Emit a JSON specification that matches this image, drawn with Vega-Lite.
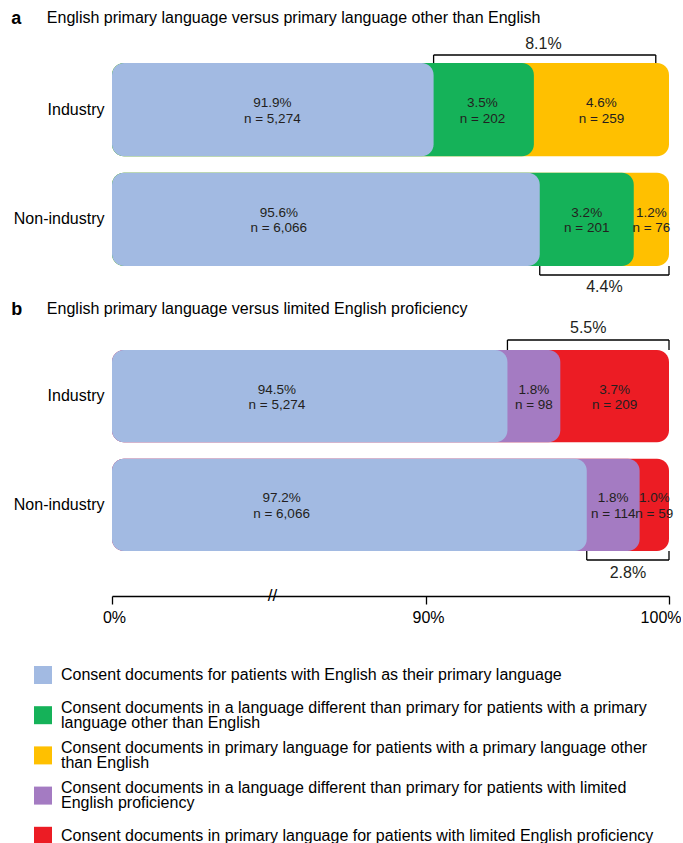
{
  "$schema": "https://vega.github.io/schema/vega-lite/v6.json",
  "padding": {"left": 11, "top": 10, "right": 0, "bottom": 0},
  "config": {"font": "Liberation Sans", "view": {"stroke": null}, "axis": {"grid": false}},
  "datasets": {
    "segs": [
      {"panel": "a", "row": "Industry", "cat": "Consent documents for patients with English as their primary language", "k": 1, "pct": 0.919, "nl": "n = 5,274"},
      {"panel": "a", "row": "Industry", "cat": "Consent documents in a language different than primary for patients with a primary language other than English", "k": 2, "pct": 0.035, "nl": "n = 202"},
      {"panel": "a", "row": "Industry", "cat": "Consent documents in primary language for patients with a primary language other than English", "k": 3, "pct": 0.046, "nl": "n = 259"},
      {"panel": "a", "row": "Non-industry", "cat": "Consent documents for patients with English as their primary language", "k": 1, "pct": 0.956, "nl": "n = 6,066"},
      {"panel": "a", "row": "Non-industry", "cat": "Consent documents in a language different than primary for patients with a primary language other than English", "k": 2, "pct": 0.032, "nl": "n = 201"},
      {"panel": "a", "row": "Non-industry", "cat": "Consent documents in primary language for patients with a primary language other than English", "k": 3, "pct": 0.012, "nl": "n = 76"},
      {"panel": "b", "row": "Industry", "cat": "Consent documents for patients with English as their primary language", "k": 1, "pct": 0.945, "nl": "n = 5,274"},
      {"panel": "b", "row": "Industry", "cat": "Consent documents in a language different than primary for patients with limited English proficiency", "k": 2, "pct": 0.018, "nl": "n = 98"},
      {"panel": "b", "row": "Industry", "cat": "Consent documents in primary language for patients with limited English proficiency", "k": 3, "pct": 0.037, "nl": "n = 209"},
      {"panel": "b", "row": "Non-industry", "cat": "Consent documents for patients with English as their primary language", "k": 1, "pct": 0.972, "nl": "n = 6,066"},
      {"panel": "b", "row": "Non-industry", "cat": "Consent documents in a language different than primary for patients with limited English proficiency", "k": 2, "pct": 0.018, "nl": "n = 114"},
      {"panel": "b", "row": "Non-industry", "cat": "Consent documents in primary language for patients with limited English proficiency", "k": 3, "pct": 0.010, "nl": "n = 59"}
    ],
    "brk": [
      {"panel": "a", "row": "Industry", "side": "top", "from": 0.919, "to": 0.9955, "lab": "8.1%"},
      {"panel": "a", "row": "Non-industry", "side": "bottom", "from": 0.956, "to": 1.0, "lab": "4.4%"},
      {"panel": "b", "row": "Industry", "side": "top", "from": 0.945, "to": 1.0, "lab": "5.5%"},
      {"panel": "b", "row": "Non-industry", "side": "bottom", "from": 0.972, "to": 1.0, "lab": "2.8%"}
    ]
  },
  "spacing": 84,
  "bounds": "flush",
  "vconcat": [
    {
      "width": 555,
      "height": 203,
      "title": {"text": "a", "subtitle": "\u200b\u00a0\u00a0\u00a0\u00a0\u00a0\u00a0\u00a0\u00a0English primary language versus primary language other than English", "anchor": "start", "frame": "bounds", "fontSize": 18, "fontWeight": "bold", "subtitleFontSize": 16, "subtitlePadding": -18, "offset": 8, "color": "black", "subtitleColor": "black", "dx": -2},
      "layer": [
        {
          "data": {"name": "segs"},
          "transform": [{"filter": "datum.panel == 'a'"}, {"stack": "pct", "groupby": ["row"], "sort": [{"field": "k", "order": "ascending"}], "as": ["s0", "s1"]}],
          "mark": {"type": "bar", "cornerRadius": 12},
          "encoding": {
            "y": {"field": "row", "type": "nominal", "sort": ["Industry", "Non-industry"], "scale": {"paddingInner": 0.15, "paddingOuter": 0}, "axis": {"title": null, "domain": false, "ticks": false, "labelFontSize": 16, "labelColor": "black", "labelPadding": 8}},
            "x": {"field": "s1", "type": "quantitative", "scale": {"domain": [0, 0.9, 0.92, 1], "range": [0, 314, 322, 557], "nice": false}, "axis": null},
            "x2": {"datum": 0},
            "color": {"field": "cat", "type": "nominal",
              "scale": {"domain": ["Consent documents for patients with English as their primary language", "Consent documents in a language different than primary for patients with a primary language other than English", "Consent documents in primary language for patients with a primary language other than English", "Consent documents in a language different than primary for patients with limited English proficiency", "Consent documents in primary language for patients with limited English proficiency"], "range": ["#A2BAE2", "#15B259", "#FFC000", "#A47BC2", "#EC1C24"]},
              "legend": {"orient": "none", "legendX": -78, "legendY": 603, "title": null, "direction": "vertical", "symbolType": "square", "symbolSize": 324, "symbolStrokeWidth": 0, "symbolOpacity": 1, "labelFontSize": 16, "labelColor": "black", "labelLimit": 1000, "labelOffset": 9, "rowPadding": 8.2, "gridAlign": "all",
                "encoding": {"labels": {"lineHeight": {"value": 15}, "dy": {"value": {"expr": "indexof(datum.value, 'different') >= 0 || indexof(datum.value, 'other than') >= 0 ? -7.5 : 0"}}}},
                "labelExpr": "datum.label == 'Consent documents in a language different than primary for patients with a primary language other than English' ? ['Consent documents in a language different than primary for patients with a primary', 'language other than English'] : datum.label == 'Consent documents in primary language for patients with a primary language other than English' ? ['Consent documents in primary language for patients with a primary language other', 'than English'] : datum.label == 'Consent documents in a language different than primary for patients with limited English proficiency' ? ['Consent documents in a language different than primary for patients with limited', 'English proficiency'] : datum.label"}},
            "order": {"field": "k", "sort": "descending"}
          }
        },
        {
          "data": {"name": "segs"},
          "transform": [{"filter": "datum.panel == 'a'"}],
          "mark": {"type": "text", "fontSize": 13.5, "dy": -6.5, "color": "#231F20"},
          "encoding": {
            "y": {"field": "row", "type": "nominal", "sort": ["Industry", "Non-industry"]},
            "x": {"field": "pct", "type": "quantitative", "stack": "zero", "bandPosition": 0.5, "scale": {"domain": [0, 0.9, 0.92, 1], "range": [0, 314, 322, 557], "nice": false}, "axis": null},
            "order": {"field": "k", "sort": "ascending"},
            "detail": {"field": "k", "type": "nominal"},
            "text": {"field": "pct", "type": "quantitative", "format": ".1%"}
          }
        },
        {
          "data": {"name": "segs"},
          "transform": [{"filter": "datum.panel == 'a'"}],
          "mark": {"type": "text", "fontSize": 13.5, "dy": 9, "color": "#231F20"},
          "encoding": {
            "y": {"field": "row", "type": "nominal", "sort": ["Industry", "Non-industry"]},
            "x": {"field": "pct", "type": "quantitative", "stack": "zero", "bandPosition": 0.5, "scale": {"domain": [0, 0.9, 0.92, 1], "range": [0, 314, 322, 557], "nice": false}, "axis": null},
            "order": {"field": "k", "sort": "ascending"},
            "detail": {"field": "k", "type": "nominal"},
            "text": {"field": "nl", "type": "nominal"}
          }
        },
        {
          "data": {"name": "brk"},
          "transform": [{"filter": "datum.panel == 'a' && datum.side == 'top'"}],
          "mark": {"type": "rule", "yOffset": -8, "color": "black", "strokeWidth": 1.3},
          "encoding": {
            "x": {"field": "from", "type": "quantitative", "scale": {"domain": [0, 0.9, 0.92, 1], "range": [0, 314, 322, 557], "nice": false}, "axis": null},
            "x2": {"field": "to"},
            "y": {"field": "row", "type": "nominal", "sort": ["Industry", "Non-industry"], "bandPosition": 0}
          }
        },
        {
          "data": {"name": "brk"},
          "transform": [{"filter": "datum.panel == 'a' && datum.side == 'top'"}, {"fold": ["from", "to"], "as": ["end", "xv"]}],
          "mark": {"type": "tick", "orient": "vertical", "size": 8, "thickness": 1.3, "yOffset": -50.6, "color": "black", "opacity": 1},
          "encoding": {
            "x": {"field": "xv", "type": "quantitative", "scale": {"domain": [0, 0.9, 0.92, 1], "range": [0, 314, 322, 557], "nice": false}, "axis": null},
            "y": {"field": "row", "type": "nominal", "sort": ["Industry", "Non-industry"]}
          }
        },
        {
          "data": {"name": "brk"},
          "transform": [{"filter": "datum.panel == 'a' && datum.side == 'top'"}, {"calculate": "(datum.from + datum.to) / 2", "as": "mid"}],
          "mark": {"type": "text", "fontSize": 16, "dy": -19, "color": "#231F20"},
          "encoding": {
            "x": {"field": "mid", "type": "quantitative", "scale": {"domain": [0, 0.9, 0.92, 1], "range": [0, 314, 322, 557], "nice": false}, "axis": null},
            "y": {"field": "row", "type": "nominal", "sort": ["Industry", "Non-industry"], "bandPosition": 0},
            "text": {"field": "lab", "type": "nominal"}
          }
        },
        {
          "data": {"name": "brk"},
          "transform": [{"filter": "datum.panel == 'a' && datum.side == 'bottom'"}],
          "mark": {"type": "rule", "yOffset": 9, "color": "black", "strokeWidth": 1.3},
          "encoding": {
            "x": {"field": "from", "type": "quantitative", "scale": {"domain": [0, 0.9, 0.92, 1], "range": [0, 314, 322, 557], "nice": false}, "axis": null},
            "x2": {"field": "to"},
            "y": {"field": "row", "type": "nominal", "sort": ["Industry", "Non-industry"], "bandPosition": 1}
          }
        },
        {
          "data": {"name": "brk"},
          "transform": [{"filter": "datum.panel == 'a' && datum.side == 'bottom'"}, {"fold": ["from", "to"], "as": ["end", "xv"]}],
          "mark": {"type": "tick", "orient": "vertical", "size": 9, "thickness": 1.3, "yOffset": 51.1, "color": "black", "opacity": 1},
          "encoding": {
            "x": {"field": "xv", "type": "quantitative", "scale": {"domain": [0, 0.9, 0.92, 1], "range": [0, 314, 322, 557], "nice": false}, "axis": null},
            "y": {"field": "row", "type": "nominal", "sort": ["Industry", "Non-industry"]}
          }
        },
        {
          "data": {"name": "brk"},
          "transform": [{"filter": "datum.panel == 'a' && datum.side == 'bottom'"}, {"calculate": "(datum.from + datum.to) / 2", "as": "mid"}],
          "mark": {"type": "text", "fontSize": 16, "dy": 21, "color": "#231F20"},
          "encoding": {
            "x": {"field": "mid", "type": "quantitative", "scale": {"domain": [0, 0.9, 0.92, 1], "range": [0, 314, 322, 557], "nice": false}, "axis": null},
            "y": {"field": "row", "type": "nominal", "sort": ["Industry", "Non-industry"], "bandPosition": 1},
            "text": {"field": "lab", "type": "nominal"}
          }
        }
      ]
    },
    {
      "width": 555,
      "height": 201,
      "title": {"text": "b", "subtitle": "\u200b\u00a0\u00a0\u00a0\u00a0\u00a0\u00a0\u00a0\u00a0English primary language versus limited English proficiency", "anchor": "start", "frame": "bounds", "fontSize": 18, "fontWeight": "bold", "subtitleFontSize": 16, "subtitlePadding": -18, "offset": 1, "color": "black", "subtitleColor": "black", "dx": -2},
      "layer": [
        {
          "data": {"name": "segs"},
          "transform": [{"filter": "datum.panel == 'b'"}, {"stack": "pct", "groupby": ["row"], "sort": [{"field": "k", "order": "ascending"}], "as": ["s0", "s1"]}],
          "mark": {"type": "bar", "cornerRadius": 12},
          "encoding": {
            "y": {"field": "row", "type": "nominal", "sort": ["Industry", "Non-industry"], "scale": {"paddingInner": 0.15, "paddingOuter": 0}, "axis": {"title": null, "domain": false, "ticks": false, "labelFontSize": 16, "labelColor": "black", "labelPadding": 8}},
            "x": {"field": "s1", "type": "quantitative", "scale": {"domain": [0, 0.9, 0.92, 1], "range": [0, 314, 322, 557], "nice": false},
              "axis": {"values": [0, 0.9, 1], "format": ".0%", "offset": 45, "tickSize": 8, "domainColor": "black", "tickColor": "black", "domainWidth": 1.3, "tickWidth": 1.3, "labelFontSize": 16, "labelColor": "black", "labelPadding": 5, "title": null, "grid": false, "labelFlush": false,
                "labelAlign": {"condition": {"test": "datum.value == 1", "value": "right"}, "value": "center"},
                "labelOffset": {"condition": {"test": "datum.value == 1", "value": 12}, "value": 2}}},
            "x2": {"datum": 0},
            "color": {"field": "cat", "type": "nominal",
              "scale": {"domain": ["Consent documents for patients with English as their primary language", "Consent documents in a language different than primary for patients with a primary language other than English", "Consent documents in primary language for patients with a primary language other than English", "Consent documents in a language different than primary for patients with limited English proficiency", "Consent documents in primary language for patients with limited English proficiency"], "range": ["#A2BAE2", "#15B259", "#FFC000", "#A47BC2", "#EC1C24"]},
              "legend": {"orient": "none", "legendX": -78, "legendY": 603, "title": null, "direction": "vertical", "symbolType": "square", "symbolSize": 324, "symbolStrokeWidth": 0, "symbolOpacity": 1, "labelFontSize": 16, "labelColor": "black", "labelLimit": 1000, "labelOffset": 9, "rowPadding": 8.2, "gridAlign": "all",
                "encoding": {"labels": {"lineHeight": {"value": 15}, "dy": {"value": {"expr": "indexof(datum.value, 'different') >= 0 || indexof(datum.value, 'other than') >= 0 ? -7.5 : 0"}}}},
                "labelExpr": "datum.label == 'Consent documents in a language different than primary for patients with a primary language other than English' ? ['Consent documents in a language different than primary for patients with a primary', 'language other than English'] : datum.label == 'Consent documents in primary language for patients with a primary language other than English' ? ['Consent documents in primary language for patients with a primary language other', 'than English'] : datum.label == 'Consent documents in a language different than primary for patients with limited English proficiency' ? ['Consent documents in a language different than primary for patients with limited', 'English proficiency'] : datum.label"}},
            "order": {"field": "k", "sort": "descending"}
          }
        },
        {
          "data": {"name": "segs"},
          "transform": [{"filter": "datum.panel == 'b'"}],
          "mark": {"type": "text", "fontSize": 13.5, "dy": -6.5, "color": "#231F20"},
          "encoding": {
            "y": {"field": "row", "type": "nominal", "sort": ["Industry", "Non-industry"]},
            "x": {"field": "pct", "type": "quantitative", "stack": "zero", "bandPosition": 0.5, "scale": {"domain": [0, 0.9, 0.92, 1], "range": [0, 314, 322, 557], "nice": false}},
            "order": {"field": "k", "sort": "ascending"},
            "detail": {"field": "k", "type": "nominal"},
            "text": {"field": "pct", "type": "quantitative", "format": ".1%"}
          }
        },
        {
          "data": {"name": "segs"},
          "transform": [{"filter": "datum.panel == 'b'"}],
          "mark": {"type": "text", "fontSize": 13.5, "dy": 9, "color": "#231F20"},
          "encoding": {
            "y": {"field": "row", "type": "nominal", "sort": ["Industry", "Non-industry"]},
            "x": {"field": "pct", "type": "quantitative", "stack": "zero", "bandPosition": 0.5, "scale": {"domain": [0, 0.9, 0.92, 1], "range": [0, 314, 322, 557], "nice": false}},
            "order": {"field": "k", "sort": "ascending"},
            "detail": {"field": "k", "type": "nominal"},
            "text": {"field": "nl", "type": "nominal"}
          }
        },
        {
          "data": {"name": "brk"},
          "transform": [{"filter": "datum.panel == 'b' && datum.side == 'top'"}],
          "mark": {"type": "rule", "yOffset": -10, "color": "black", "strokeWidth": 1.3},
          "encoding": {
            "x": {"field": "from", "type": "quantitative", "scale": {"domain": [0, 0.9, 0.92, 1], "range": [0, 314, 322, 557], "nice": false}},
            "x2": {"field": "to"},
            "y": {"field": "row", "type": "nominal", "sort": ["Industry", "Non-industry"], "bandPosition": 0}
          }
        },
        {
          "data": {"name": "brk"},
          "transform": [{"filter": "datum.panel == 'b' && datum.side == 'top'"}, {"fold": ["from", "to"], "as": ["end", "xv"]}],
          "mark": {"type": "tick", "orient": "vertical", "size": 10, "thickness": 1.3, "yOffset": -51.2, "color": "black", "opacity": 1},
          "encoding": {
            "x": {"field": "xv", "type": "quantitative", "scale": {"domain": [0, 0.9, 0.92, 1], "range": [0, 314, 322, 557], "nice": false}},
            "y": {"field": "row", "type": "nominal", "sort": ["Industry", "Non-industry"]}
          }
        },
        {
          "data": {"name": "brk"},
          "transform": [{"filter": "datum.panel == 'b' && datum.side == 'top'"}, {"calculate": "(datum.from + datum.to) / 2", "as": "mid"}],
          "mark": {"type": "text", "fontSize": 16, "dy": -22, "color": "#231F20"},
          "encoding": {
            "x": {"field": "mid", "type": "quantitative", "scale": {"domain": [0, 0.9, 0.92, 1], "range": [0, 314, 322, 557], "nice": false}},
            "y": {"field": "row", "type": "nominal", "sort": ["Industry", "Non-industry"], "bandPosition": 0},
            "text": {"field": "lab", "type": "nominal"}
          }
        },
        {
          "data": {"name": "brk"},
          "transform": [{"filter": "datum.panel == 'b' && datum.side == 'bottom'"}],
          "mark": {"type": "rule", "yOffset": 9, "color": "black", "strokeWidth": 1.3},
          "encoding": {
            "x": {"field": "from", "type": "quantitative", "scale": {"domain": [0, 0.9, 0.92, 1], "range": [0, 314, 322, 557], "nice": false}},
            "x2": {"field": "to"},
            "y": {"field": "row", "type": "nominal", "sort": ["Industry", "Non-industry"], "bandPosition": 1}
          }
        },
        {
          "data": {"name": "brk"},
          "transform": [{"filter": "datum.panel == 'b' && datum.side == 'bottom'"}, {"fold": ["from", "to"], "as": ["end", "xv"]}],
          "mark": {"type": "tick", "orient": "vertical", "size": 9, "thickness": 1.3, "yOffset": 50.7, "color": "black", "opacity": 1},
          "encoding": {
            "x": {"field": "xv", "type": "quantitative", "scale": {"domain": [0, 0.9, 0.92, 1], "range": [0, 314, 322, 557], "nice": false}},
            "y": {"field": "row", "type": "nominal", "sort": ["Industry", "Non-industry"]}
          }
        },
        {
          "data": {"name": "brk"},
          "transform": [{"filter": "datum.panel == 'b' && datum.side == 'bottom'"}, {"calculate": "(datum.from + datum.to) / 2", "as": "mid"}],
          "mark": {"type": "text", "fontSize": 16, "dy": 22, "color": "#231F20"},
          "encoding": {
            "x": {"field": "mid", "type": "quantitative", "scale": {"domain": [0, 0.9, 0.92, 1], "range": [0, 314, 322, 557], "nice": false}},
            "y": {"field": "row", "type": "nominal", "sort": ["Industry", "Non-industry"], "bandPosition": 1},
            "text": {"field": "lab", "type": "nominal"}
          }
        },
        {
          "data": {"values": [{"mark": "//"}]},
          "mark": {"type": "text", "fontSize": 17, "dy": 45, "color": "black"},
          "encoding": {
            "x": {"datum": 0.46, "type": "quantitative", "scale": {"domain": [0, 0.9, 0.92, 1], "range": [0, 314, 322, 557], "nice": false}},
            "y": {"datum": "Non-industry", "type": "nominal", "bandPosition": 1},
            "text": {"field": "mark", "type": "nominal"}
          }
        }
      ]
    }
  ]
}
